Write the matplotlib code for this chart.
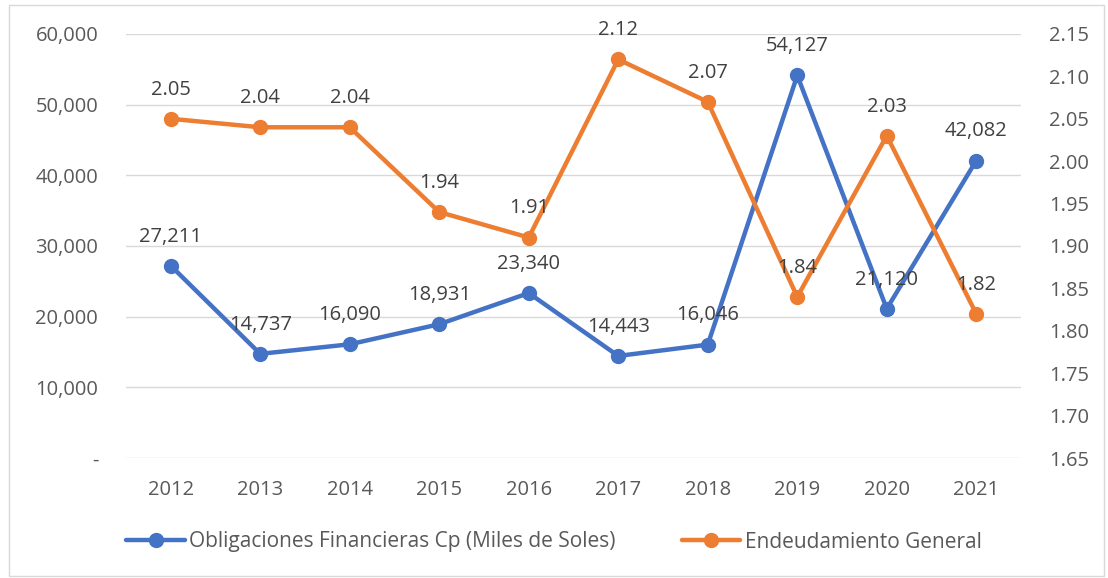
import matplotlib
matplotlib.use("Agg")
import matplotlib.pyplot as plt
from matplotlib.patches import Rectangle
from matplotlib.ticker import FuncFormatter, MultipleLocator

years = ["2012", "2013", "2014", "2015", "2016", "2017", "2018", "2019", "2020", "2021"]
obligaciones = [27211, 14737, 16090, 18931, 23340, 14443, 16046, 54127, 21120, 42082]
endeudamiento = [2.05, 2.04, 2.04, 1.94, 1.91, 2.12, 2.07, 1.84, 2.03, 1.82]
name_blue = "Obligaciones Financieras Cp (Miles de Soles)"
name_orange = "Endeudamiento General"

BLUE = "#4472C4"
ORANGE = "#ED7D31"
TICK = "#595959"
LABEL = "#404040"
FS = 14.5
plt.rcParams['font.family'] = ['Open Sans', 'DejaVu Sans']

fig = plt.figure(figsize=(11.08, 5.78), dpi=100)
ax = fig.add_axes([0.1137, 0.2076, 0.9215 - 0.1137, 0.9412 - 0.2076])
ax2 = ax.twinx()

x = list(range(len(years)))
l1, = ax.plot(x, obligaciones, color=BLUE, lw=3.2, marker='o', ms=10, solid_capstyle='round', zorder=3)
l2, = ax2.plot(x, endeudamiento, color=ORANGE, lw=3.2, marker='o', ms=10, solid_capstyle='round', zorder=3)

ax.set_xlim(-0.5, len(years) - 0.5)
ax.set_ylim(0, 60000)
ax2.set_ylim(1.65, 2.15)
ax.yaxis.set_major_locator(MultipleLocator(10000))
ax2.yaxis.set_major_locator(MultipleLocator(0.05))
ax.yaxis.set_major_formatter(FuncFormatter(lambda v, p: "-" if abs(v) < 1e-9 else f"{v:,.0f}"))
ax2.yaxis.set_major_formatter(FuncFormatter(lambda v, p: f"{v:.2f}"))
ax.set_xticks(x)
ax.set_xticklabels(years)

ax.grid(axis='y', color='#D9D9D9', lw=1)
ax.set_axisbelow(True)
for a in (ax, ax2):
    for s in a.spines.values():
        s.set_visible(False)
    a.tick_params(length=0, labelsize=FS, colors=TICK)
ax.tick_params(axis='y', pad=20)
ax.tick_params(axis='x', pad=16)
ax2.tick_params(axis='y', pad=20)

for xi, v in zip(x, obligaciones):
    ax.annotate(f"{v:,}", (xi, v), xytext=(0, 21), textcoords='offset points',
                ha='center', va='center', fontsize=FS, color=LABEL, zorder=5)
for xi, v in zip(x, endeudamiento):
    ax2.annotate(f"{v:.2f}", (xi, v), xytext=(0, 21), textcoords='offset points',
                 ha='center', va='center', fontsize=FS, color=LABEL, zorder=5)

fig.legend([l1, l2], [name_blue, name_orange], loc='center', bbox_to_anchor=(0.5, 1 - 542 / 578),
           ncol=2, frameon=False, fontsize=15, handlelength=2.8, columnspacing=3.2,
           handletextpad=0.2, labelcolor=TICK)

fig.patches.append(Rectangle((9 / 1108, 2 / 578), 1095 / 1108, 571 / 578, transform=fig.transFigure,
                             fill=False, edgecolor='#D9D9D9', lw=1))

fig.savefig("out.png", dpi=100)
